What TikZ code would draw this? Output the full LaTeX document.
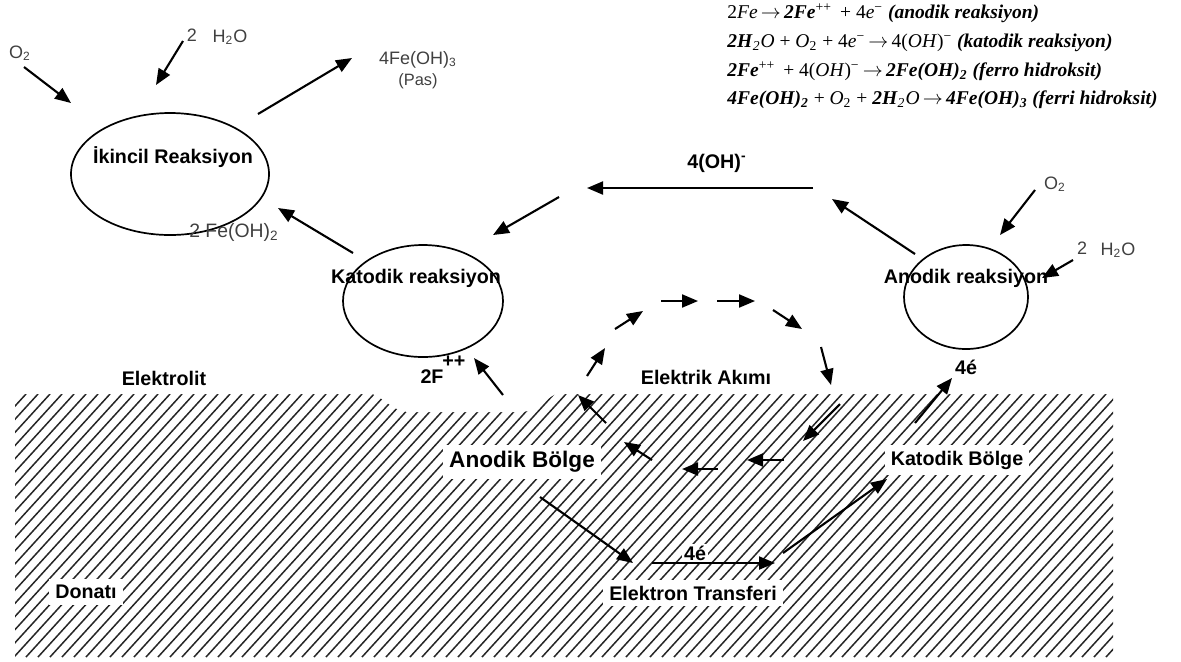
\documentclass[tikz,border=0pt]{standalone}
\usepackage{fontspec}
\setmainfont{Liberation Sans}
\newfontfamily\eqf{Liberation Serif}
\usetikzlibrary{arrows.meta,shapes.geometric}
\newcommand{\rxarrow}{\,$\rightarrow$\,}
\begin{document}
\begin{tikzpicture}[x=0.5pt,y=-0.5pt,
  arr/.style={line width=1.05pt,-{Triangle[length=8pt,width=6.5pt]}},
  ellnode/.style={draw,ellipse,line width=0.85pt,inner sep=0pt},
  lbl/.style={font=\fontsize{9.85}{11}\selectfont\bfseries,inner sep=1pt},
  glbl/.style={font=\fontsize{9}{11}\selectfont,text=black!75,inner sep=1pt},
  boxlbl/.style={lbl,fill=white,inner sep=3pt},
  eqline/.style={font=\eqf\fontsize{9.75}{11}\selectfont,anchor=west,inner sep=0pt},
  hatchline/.style={line width=0.75pt,black!85}]
\useasboundingbox (0,0) rectangle (1181,661);
% metal (hatched)
\begin{scope}
  \clip (15,394) rectangle (1113,657);
  \foreach \i in {-250,-238,...,1113} \draw[hatchline] (\i,657) -- ++(240,-263);
\end{scope}
\fill[white] (362,392) .. controls (382,392) and (390,412) .. (410,412) -- (520,412) .. controls (540,412) and (548,392) .. (565,392) -- cycle;
% ellipses
\node[ellnode,minimum width=99pt,minimum height=61pt] (ik) at (170,174) {};
\node[ellnode,minimum width=80pt,minimum height=56pt] (kat) at (423,301) {};
\node[ellnode,minimum width=62pt,minimum height=52pt] (an) at (966,297) {};
% labels
\node[lbl] (ikl) at (173,157) {İkincil Reaksiyon};
\node[lbl] (katl) at (416,278) {Katodik reaksiyon};
\node[lbl] (anl) at (966,278) {Anodik reaksiyon};
\node[lbl] (oh) at (717,163) {4(OH)\textsuperscript{-}};
\node[lbl] (elektrolit) at (164,378) {Elektrolit};
\node[lbl] (fe) at (432,377) {2F};
\node[lbl,anchor=west] (fepp) at (440,362) {++};
\node[lbl] (akim) at (706,377) {Elektrik Akımı};
\node[lbl] (e4a) at (966,367) {4é};
\node[boxlbl,font=\fontsize{11.3}{13}\selectfont\bfseries] (anb) at (522,462) {Anodik Bölge};
\node[boxlbl] (katb) at (957,460) {Katodik Bölge};
\node[boxlbl] (donati) at (86,592) {Donatı};
\node[boxlbl] (etr) at (693,593) {Elektron Transferi};
\node[boxlbl,inner sep=1pt] (e4b) at (695,553) {4é};
% gray species labels
\node[glbl] (o2a) at (20,53) {O\textsubscript{2}};
\node[glbl] (twoa) at (192,35) {2};
\node[glbl] (h2oa) at (230,37) {H\textsubscript{2}O};
\node[glbl] (pas) at (418,60) {4Fe(OH)\textsubscript{3}};
\node[glbl,font=\fontsize{8.2}{10}\selectfont] (pas2) at (418,81) {(Pas)};
\node[glbl,font=\fontsize{9.7}{11}\selectfont] (feoh2) at (234,232) {2 Fe(OH)\textsubscript{2}};
\node[glbl] (o2b) at (1055,184) {O\textsubscript{2}};
\node[glbl] (twob) at (1082,248) {2};
\node[glbl] (h2ob) at (1118,250) {H\textsubscript{2}O};
% equations
\node[eqline] (eq1) at (727,13) {2\textit{Fe}\rxarrow\textbf{\textit{2Fe}}\textsuperscript{++} \,+ 4\textit{e}\textsuperscript{−} \textbf{\textit{(anodik reaksiyon)}}};
\node[eqline] (eq2) at (727,43) {\textbf{\textit{2H}}\textsubscript{\textit{2}}\textit{O} + \textit{O}\textsubscript{2} + 4\textit{e}\textsuperscript{−}\rxarrow 4(\textit{OH})\textsuperscript{−} \textbf{\textit{(katodik reaksiyon)}}};
\node[eqline] (eq3) at (727,71) {\textbf{\textit{2Fe}}\textsuperscript{++} \,+ 4(\textit{OH})\textsuperscript{−}\rxarrow\textbf{\textit{2Fe(OH)}}\textsubscript{\textbf{\textit{2}}} \textbf{\textit{(ferro hidroksit)}}};
\node[eqline] (eq4) at (727,100) {\textbf{\textit{4Fe(OH)}}\textsubscript{\textbf{\textit{2}}} + \textit{O}\textsubscript{2} + \textbf{\textit{2H}}\textsubscript{\textit{2}}\textit{O}\rxarrow\textbf{\textit{4Fe(OH)}}\textsubscript{\textbf{\textit{3}}} \textbf{\textit{(ferri hidroksit)}}};
% connector end points
\coordinate (a1s) at (24,67);   \coordinate (a1e) at (71,103);
\coordinate (a2s) at (183,41);  \coordinate (a2e) at (156,85);
\coordinate (a3s) at (258,114); \coordinate (a3e) at (352,58);
\coordinate (a4s) at (353,253); \coordinate (a4e) at (278,208);
\coordinate (a5s) at (813,188); \coordinate (a5e) at (587,188);
\coordinate (a6s) at (559,197); \coordinate (a6e) at (493,235);
\coordinate (a7s) at (915,254); \coordinate (a7e) at (832,199);
\coordinate (a8s) at (1035,190);\coordinate (a8e) at (1000,235);
\coordinate (a9s) at (1073,260);\coordinate (a9e) at (1042,278);
\coordinate (a10s) at (503,395);\coordinate (a10e) at (474,358);
\coordinate (a11s) at (915,423);\coordinate (a11e) at (952,378);
\coordinate (c1s) at (587,376); \coordinate (c1e) at (605,348);
\coordinate (c2s) at (615,329); \coordinate (c2e) at (643,311);
\coordinate (c3s) at (661,301); \coordinate (c3e) at (698,301);
\coordinate (c4s) at (717,301); \coordinate (c4e) at (755,301);
\coordinate (c5s) at (773,310); \coordinate (c5e) at (802,329);
\coordinate (c6s) at (821,347); \coordinate (c6e) at (831,385);
\coordinate (c7s) at (840,404); \coordinate (c7e) at (803,441);
\coordinate (c8s) at (784,460); \coordinate (c8e) at (747,460);
\coordinate (c9s) at (718,469); \coordinate (c9e) at (682,469);
\coordinate (c10s) at (652,460);\coordinate (c10e) at (624,442);
\coordinate (c11s) at (606,423);\coordinate (c11e) at (578,395);
\coordinate (e1s) at (540,497); \coordinate (e1e) at (633,563);
\coordinate (e2s) at (652,563); \coordinate (e2e) at (775,563);
\coordinate (e3s) at (783,553); \coordinate (e3e) at (887,479);
% connectors
\foreach \p in {a1,a2,a3,a4,a5,a6,a7,a8,a9,a10,a11,c1,c2,c3,c4,c5,c6,c7,c8,c9,c10,c11,e1,e2,e3}
  \draw[arr] (\p s) -- (\p e);
\end{tikzpicture}
\end{document}
